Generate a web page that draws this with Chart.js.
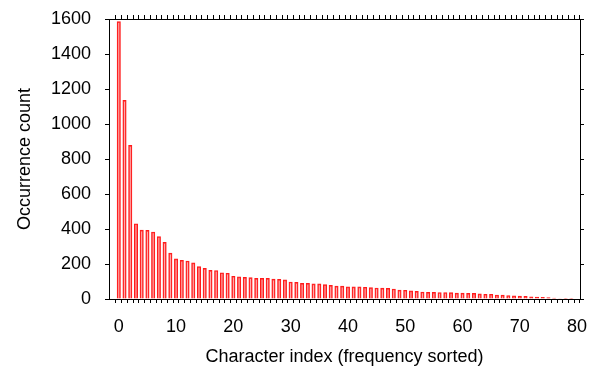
<!DOCTYPE html>
<html>
<head>
<meta charset="utf-8">
<script src="https://cdn.jsdelivr.net/npm/chart.js@4/dist/chart.umd.min.js"></script>
<style>
html,body{margin:0;padding:0;background:#fff;}
#c{display:block;}
</style>
</head>
<body>
<canvas id="c" width="602" height="374"></canvas>
<script>
const charIndex = [];
for (let i = 0; i < 80; i++) charIndex.push(i);
const counts = [1585,1135,878,430,394,392,383,356,324,262,
  229,221,217,206,185,175,164,163,150,147,
  130,126,124,122,118,118,118,114,112,109,
  97,95,89,89,86,86,82,78,74,74,
  69,69,69,67,65,63,62,61,57,51,
  50,46,44,40,38,38,37,37,36,34,
  34,32,32,29,27,27,23,22,20,18,
  16,15,13,11,10,8,5,3,2,2];
const xTickValues = [];
for (let i = 0; i <= 80; i++) xTickValues.push(i);
const xLabelValues = [0,10,20,30,40,50,60,70,80];
const yTickValues = [0,200,400,600,800,1000,1200,1400,1600];

const FONT = {family: '"Liberation Sans", Arial, Helvetica, sans-serif', size: 18};
const setTicks = vals => s => { s.ticks = vals.map(v => ({value: v})); };
const noPad = s => { s.paddingTop = 0; s.paddingBottom = 0; };

new Chart(document.getElementById('c'), {
  type: 'bar',
  data: {
    datasets: [{
      data: charIndex.map((x, i) => ({x: x, y: counts[i]})),
      borderColor: '#ff1a1a',
      backgroundColor: 'rgba(255,120,120,0.35)',
      borderWidth: 1,
      barThickness: 3.4,
      xAxisID: 'x',
      yAxisID: 'y'
    }]
  },
  options: {
    responsive: false,
    animation: false,
    devicePixelRatio: 1,
    layout: {padding: 0},
    plugins: {legend: {display: false}, tooltip: {enabled: false}},
    scales: {
      x: {
        type: 'linear', position: 'bottom', min: -1.2, max: 80,
        afterBuildTicks: setTicks(xTickValues),
        afterFit: s => { s.height = 75; },
        ticks: {
          autoSkip: false, maxRotation: 0, color: '#000', font: FONT, padding: 13,
          callback: v => xLabelValues.includes(v) ? String(v) : ''
        },
        grid: {drawOnChartArea: false, tickLength: 4, color: '#000'},
        border: {display: true, color: '#000', width: 1},
        title: {display: true, text: 'Character index (frequency sorted)', color: '#000', font: FONT, padding: {top: 0, bottom: 6}}
      },
      x2: {
        type: 'linear', position: 'top', min: -1.2, max: 80, display: true,
        afterBuildTicks: setTicks(xTickValues),
        afterFit: s => { s.height = 19; },
        ticks: {display: false, autoSkip: false},
        grid: {display: true, drawTicks: true, drawOnChartArea: false, tickLength: 4, color: '#000'},
        border: {display: true, color: '#000', width: 1}
      },
      y: {
        type: 'linear', position: 'left', min: 0, max: 1600,
        afterBuildTicks: setTicks(yTickValues),
        afterFit: s => { s.width = 109; noPad(s); },
        ticks: {color: '#000', font: FONT, padding: 14, callback: v => String(v)},
        grid: {drawOnChartArea: false, tickLength: 4, color: '#000'},
        border: {display: true, color: '#000', width: 1},
        title: {display: true, text: 'Occurrence count', color: '#000', font: FONT, padding: {top: 14, bottom: 0}}
      },
      y2: {
        type: 'linear', position: 'right', min: 0, max: 1600,
        afterBuildTicks: setTicks(yTickValues),
        afterFit: s => { s.width = 22; noPad(s); },
        ticks: {display: false},
        grid: {drawOnChartArea: false, tickLength: 4, color: '#000'},
        border: {display: true, color: '#000', width: 1}
      }
    }
  }
});
</script>
</body>
</html>
